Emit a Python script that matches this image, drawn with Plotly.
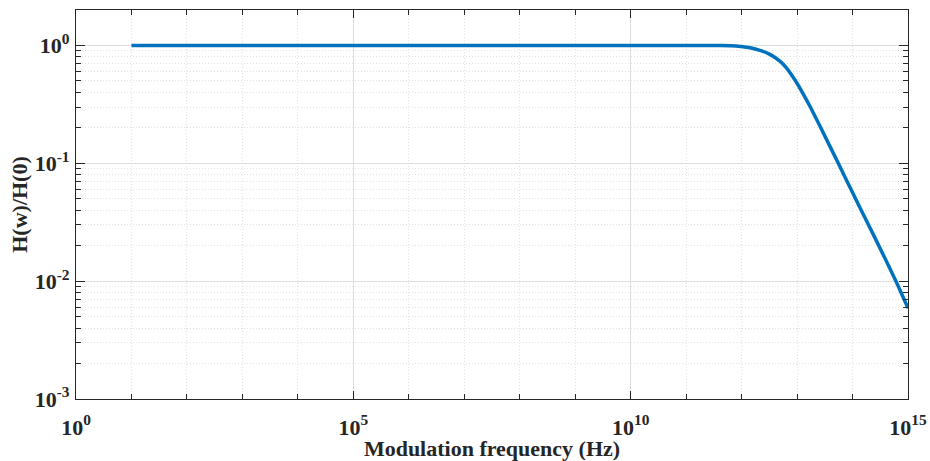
import plotly.graph_objects as go

# Normalised modulation response H(w)/H(0) vs modulation frequency
log_freq = [1, 3, 5, 7, 9, 10, 11, 11.6, 11.9, 12.15, 12.33, 12.51,
            12.69, 12.8, 12.98, 13.112, 13.232, 13.412, 13.743, 14.121,
            14.422, 14.783, 15.0]
h_ratio = [1.0, 1.0, 1.0, 1.0, 1.0, 1.0, 1.0, 0.998, 0.99, 0.955, 0.91,
           0.84, 0.736, 0.653, 0.495, 0.387, 0.305, 0.207, 0.100,
           0.0432, 0.0224, 0.0100, 0.0059]
freq_hz = [10.0 ** v for v in log_freq]

x_major = [1e0, 1e5, 1e10, 1e15]
x_major_text = ["<b>10<sup>0</sup></b>", "<b>10<sup>5</sup></b>",
                "<b>10<sup>10</sup></b>", "<b>10<sup>15</sup></b>"]
x_minor = [10.0**k for k in range(1, 15) if k % 5 != 0]

y_major = [1e-3, 1e-2, 1e-1, 1e0]
y_major_text = ["<b>10<sup>-3</sup></b>", "<b>10<sup>-2</sup></b>",
                "<b>10<sup>-1</sup></b>", "<b>10<sup>0</sup></b>"]
y_minor = [m * 10.0**e for e in (-3, -2, -1, 0) for m in range(2, 10)]

font_family = "Liberation Serif"
axis_color = "#262626"

fig = go.Figure()
fig.add_trace(go.Scatter(
    x=freq_hz, y=h_ratio, mode="lines",
    line=dict(color="#0072BD", width=3.5, shape="spline", smoothing=0.6),
    showlegend=False, hoverinfo="x+y",
))

common = dict(
    type="log", showline=True, linecolor=axis_color, linewidth=1.2, mirror="ticks",
    ticks="inside", tickcolor=axis_color, tickwidth=1.2, automargin=False,
    showgrid=True, gridcolor="#dedede", gridwidth=1, zeroline=False,
    tickfont=dict(family=font_family, size=22, color=axis_color),
)

fig.update_xaxes(
    **common,
    range=[0, 15], tickmode="array", tickvals=x_major, ticktext=x_major_text,
    ticklen=8, ticklabelstandoff=8,
    minor=dict(tickmode="array", tickvals=x_minor, ticks="inside", ticklen=5,
               tickcolor=axis_color, showgrid=True, gridcolor="#e2e2e2",
               griddash="1px,2px", gridwidth=1),
    title=dict(text="<b>Modulation frequency (Hz)</b>",
               font=dict(family=font_family, size=22, color=axis_color), standoff=5),
)
fig.update_yaxes(
    **common,
    range=[-3, 0.301], tickmode="array", tickvals=y_major, ticktext=y_major_text,
    ticklen=9, ticklabelstandoff=1,
    minor=dict(tickmode="array", tickvals=y_minor, ticks="inside", ticklen=5,
               tickcolor=axis_color, showgrid=True, gridcolor="#e2e2e2",
               griddash="1px,2px", gridwidth=1),
    title=dict(text="<b>H(w)/H(0)</b>",
               font=dict(family=font_family, size=22, color=axis_color), standoff=0),
)

fig.update_layout(
    width=930, height=461,
    margin=dict(l=76, r=22, t=10, b=62),
    paper_bgcolor="white", plot_bgcolor="white",
    font=dict(family=font_family, size=22, color=axis_color),
)

fig.write_html("out.html")
